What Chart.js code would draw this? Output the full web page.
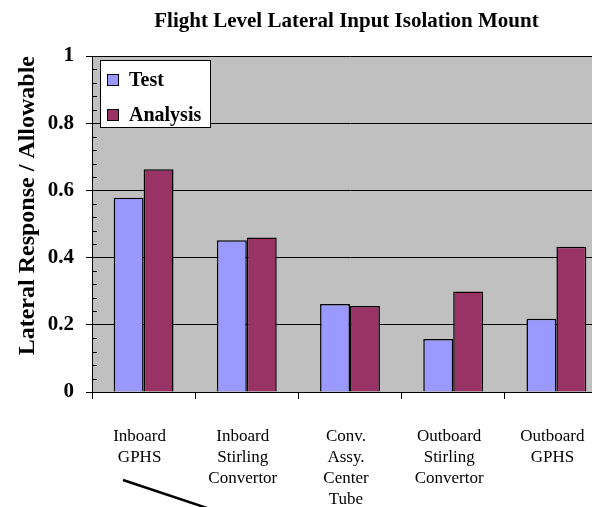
<!DOCTYPE html>
<html>
<head>
<meta charset="utf-8">
<script src="https://cdn.jsdelivr.net/npm/chart.js@4/dist/chart.umd.min.js"></script>
<style>
html,body{margin:0;padding:0;overflow:hidden;background:#fff;}
#wrap{position:absolute;left:0;top:0;width:693px;height:507px;}
</style>
</head>
<body>
<div id="wrap"><canvas id="c" width="693" height="507"></canvas></div>
<script>
const categories = [
  ["Inboard","GPHS"],
  ["Inboard","Stirling","Convertor"],
  ["Conv.","Assy.","Center","Tube"],
  ["Outboard","Stirling","Convertor"],
  ["Outboard","GPHS"]
];
const testValues = [0.578, 0.452, 0.262, 0.158, 0.218];
const analysisValues = [0.663, 0.460, 0.256, 0.299, 0.432];
const yTicks = [0, 0.2, 0.4, 0.6, 0.8, 1];
const yTickLabels = ["0", "0.2", "0.4", "0.6", "0.8", "1"];
const minorTicks = [0.04,0.08,0.12,0.16,0.24,0.28,0.32,0.36,0.44,0.48,0.52,0.56,0.64,0.68,0.72,0.76,0.84,0.88,0.92,0.96];

const SERIF = '"Liberation Serif", "Times New Roman", serif';

const plotBg = {
  id: 'plotBg',
  beforeDraw(chart) {
    const {ctx, chartArea: a} = chart;
    ctx.save();
    ctx.fillStyle = '#C0C0C0';
    ctx.fillRect(a.left, a.top, a.right - a.left, a.bottom - a.top);
    ctx.restore();
  }
};

const minorTickPlugin = {
  id: 'minorTicks',
  afterDraw(chart) {
    const {ctx} = chart;
    const y = chart.scales.y;
    ctx.save();
    ctx.strokeStyle = '#000';
    ctx.lineWidth = 1;
    ctx.beginPath();
    minorTicks.forEach(v => {
      const py = Math.round(y.getPixelForValue(v)) + 0.5;
      ctx.moveTo(y.right, py);
      ctx.lineTo(y.right + 5, py);
    });
    ctx.stroke();
    ctx.restore();
  }
};

const boxLegend = {
  id: 'boxLegend',
  afterDraw(chart) {
    const {ctx, chartArea: a} = chart;
    const x0 = a.left + 8, y0 = a.top + 4, w = 110, h = 67;
    ctx.save();
    ctx.fillStyle = '#fff';
    ctx.fillRect(x0, y0, w, h);
    ctx.strokeStyle = '#000';
    ctx.lineWidth = 1;
    ctx.strokeRect(x0 + 0.5, y0 + 0.5, w, h);
    ctx.font = 'bold 20px ' + SERIF;
    ctx.textBaseline = 'middle';
    chart.data.datasets.forEach((ds, i) => {
      const cy = y0 + 20 + i * 35;
      ctx.fillStyle = ds.backgroundColor;
      ctx.fillRect(x0 + 7, cy - 6, 12, 12);
      ctx.strokeRect(x0 + 7.5, cy - 5.5, 11, 11);
      ctx.fillStyle = '#000';
      ctx.fillText(ds.label, x0 + 29, cy + 1);
    });
    ctx.restore();
  }
};

const pointerLine = {
  id: 'pointerLine',
  afterDraw(chart) {
    const {ctx, chartArea: a} = chart;
    ctx.save();
    ctx.strokeStyle = '#000';
    ctx.lineWidth = 2.5;
    ctx.beginPath();
    ctx.moveTo(a.left + 31, a.bottom + 88);
    ctx.lineTo(a.left + 121, a.bottom + 118);
    ctx.stroke();
    ctx.restore();
  }
};

new Chart(document.getElementById('c'), {
  type: 'bar',
  data: {
    labels: categories,
    datasets: [
      {label: 'Test', data: testValues, backgroundColor: '#9999FF', borderColor: '#000', borderWidth: 1.5},
      {label: 'Analysis', data: analysisValues, backgroundColor: '#993366', borderColor: '#000', borderWidth: 1.5}
    ]
  },
  options: {
    responsive: false,
    animation: false,
    layout: {padding: 0},
    datasets: {bar: {categoryPercentage: 0.58, barPercentage: 1}},
    plugins: {
      legend: {display: false},
      tooltip: {enabled: false},
      title: {
        display: true,
        text: 'Flight Level Lateral Input Isolation Mount',
        color: '#000',
        font: {family: SERIF, size: 21, weight: 'bold', lineHeight: 1.2},
        padding: {top: 9, bottom: 21.8}
      }
    },
    scales: {
      x: {
        grid: {drawOnChartArea: false, color: '#000', tickLength: 7, offset: true},
        border: {color: '#000', width: 1},
        ticks: {
          color: '#000',
          padding: 27,
          maxRotation: 0,
          autoSkip: false,
          labelOffset: -4,
          font: {family: SERIF, size: 17, lineHeight: 1.24}
        },
        afterFit(scale) { scale.height = 115; }
      },
      y: {
        min: 0, max: 1,
        afterBuildTicks(scale) { scale.ticks = yTicks.map(v => ({value: v})); },
        grid: {color: '#000', lineWidth: 1, tickLength: 6},
        border: {color: '#000', width: 1},
        ticks: {
          color: '#000',
          padding: 12,
          font: {family: SERIF, size: 21, weight: 'bold'},
          callback: (v, i) => yTickLabels[i]
        },
        title: {
          display: true,
          text: 'Lateral Response / Allowable',
          align: 'end',
          color: '#000',
          font: {family: SERIF, size: 24, weight: 'bold', lineHeight: 1.2},
          padding: {top: 13, bottom: 0}
        },
        afterFit(scale) { scale.width = 92; }
      },
      spacer: {
        type: 'linear',
        position: 'right',
        display: true,
        min: 0, max: 1,
        grid: {display: false, drawTicks: false},
        border: {display: false},
        ticks: {display: false},
        afterFit(scale) { scale.width = 85; }
      }
    }
  },
  plugins: [plotBg, minorTickPlugin, boxLegend, pointerLine]
});
</script>
</body>
</html>
